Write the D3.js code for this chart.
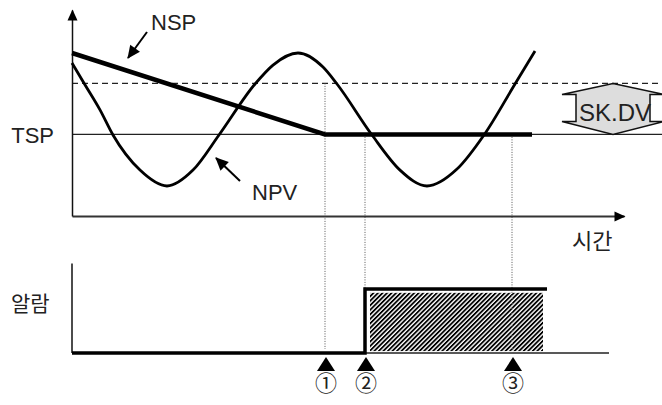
<!DOCTYPE html>
<html>
<head>
<meta charset="utf-8">
<script src="https://cdn.jsdelivr.net/npm/d3@7/dist/d3.min.js"></script>
<style>
  html, body { margin: 0; padding: 0; background: #fff; }
  svg { display: block; }
  text { font-family: "Liberation Sans", Arial, sans-serif; fill: #222; }
  .kr { font-family: "Noto Sans CJK KR", sans-serif; }
</style>
</head>
<body>
<svg id="chart" width="662" height="405"></svg>
<script>
// ---------------- data ----------------
const npvTime  = [0, 2.5, 5.6, 8.2, 13.6, 19, 24.2, 29.4, 36.6, 40.2, 45.2, 50.2, 53, 60, 65.6, 71, 77, 82.4, 88.6, 92.6];
const npvValue = [75, 64.7, 52, 39.7, 22.5, 14.7, 22.5, 39.7, 64.7, 74, 79.9, 73, 64.7, 39.7, 22.5, 14.7, 23, 39.7, 64.7, 80.9];
const nspTime  = [0, 50.6, 92];
const nspValue = [79.9, 40, 40];
const tspValue = 40;
const skdvValue = 25;            // dashed line = TSP + SK.DV
const alarmTime  = [0, 58.6, 58.6, 95];
const alarmState = [0, 0, 1, 1];
const alarmHatch = { t0: 59.6, t1: 94.2, v0: 0.03, v1: 0.94 };
const eventLabels = ["①", "②", "③"];
const eventTimes  = [50.6, 58.6, 88];
const eventTopValue = [skdvValue + tspValue, tspValue, tspValue];
const labels = { nsp: "NSP", npv: "NPV", tsp: "TSP", skdv: "SK.DV", time: "시간", alarm: "알람" };

// ---------------- scales ----------------
const svg = d3.select("#chart");
const x = d3.scaleLinear().domain([0, 110]).range([72, 622]);
const y = d3.scaleLinear().domain([0, 100]).range([216, 12]);
const ya = d3.scaleLinear().domain([0, 1]).range([353, 289]);

const defs = svg.append("defs");
defs.append("marker").attr("id", "axArrow")
  .attr("markerUnits", "userSpaceOnUse").attr("markerWidth", 14).attr("markerHeight", 14)
  .attr("viewBox", "-12 -7 14 14").attr("refX", 0).attr("refY", 0).attr("orient", "auto")
  .append("path").attr("d", "M1,0 L-10,-5 L-10,5 Z").attr("fill", "#000");
defs.append("marker").attr("id", "callArrow")
  .attr("markerUnits", "userSpaceOnUse").attr("markerWidth", 16).attr("markerHeight", 16)
  .attr("viewBox", "-14 -8 16 16").attr("refX", 0).attr("refY", 0).attr("orient", "auto")
  .append("path").attr("d", "M1,0 L-12,-6 L-12,6 Z").attr("fill", "#000");
const pat = defs.append("pattern").attr("id", "hatch")
  .attr("patternUnits", "userSpaceOnUse").attr("width", 3.2).attr("height", 3.2)
  .attr("patternTransform", "rotate(45)");
pat.append("rect").attr("width", 3.2).attr("height", 3.2).attr("fill", "#fff");
pat.append("rect").attr("width", 1.8).attr("height", 3.2).attr("fill", "#000");

// ---------------- top panel ----------------
svg.append("line").attr("x1", x(0)).attr("x2", 662).attr("y1", y(tspValue)).attr("y2", y(tspValue))
  .attr("stroke", "#222").attr("stroke-width", 1.1);
svg.append("line").attr("x1", x(0)).attr("x2", 662)
  .attr("y1", y(tspValue + skdvValue)).attr("y2", y(tspValue + skdvValue))
  .attr("stroke", "#222").attr("stroke-width", 1.1).attr("stroke-dasharray", "6,4");

// event dotted lines
eventTimes.forEach((t, i) => {
  svg.append("line").attr("x1", x(t)).attr("x2", x(t))
    .attr("y1", y(eventTopValue[i]))
    .attr("y2", i === 1 ? ya(1) : ya(0) - 4)
    .attr("stroke", "#555").attr("stroke-width", 1).attr("stroke-dasharray", "1,1.5");
});

// axes (domain paths only)
const xAxisScale = x.copy().domain([0, 110.4]).range([x(0), x(110.4)]);
svg.append("g").attr("transform", `translate(0,${y(0)})`)
  .call(d3.axisBottom(xAxisScale).ticks(0).tickSizeOuter(0))
  .select(".domain").attr("stroke", "#333").attr("stroke-width", 1.8).attr("marker-end", "url(#axArrow)");
const yAxisScale = y.copy().domain([0, 101]).range([y(0), y(101)]);
svg.append("g").attr("transform", `translate(${x(0)},0)`)
  .call(d3.axisLeft(yAxisScale).ticks(0).tickSizeOuter(0))
  .select(".domain").attr("stroke", "#111").attr("stroke-width", 1.5).attr("marker-end", "url(#axArrow)");

// NPV curve
const npvLine = d3.line().x(d => x(d[0])).y(d => y(d[1])).curve(d3.curveMonotoneX);
svg.append("path").datum(d3.zip(npvTime, npvValue)).attr("d", npvLine)
  .attr("fill", "none").attr("stroke", "#000").attr("stroke-width", 2.8);

// NSP line
const nspLine = d3.line().x(d => x(d[0])).y(d => y(d[1]));
svg.append("path").datum(d3.zip(nspTime, nspValue)).attr("d", nspLine)
  .attr("fill", "none").attr("stroke", "#000").attr("stroke-width", 4.5);

// callout arrows
svg.append("line").attr("x1", 147).attr("y1", 32).attr("x2", 128).attr("y2", 58)
  .attr("stroke", "#000").attr("stroke-width", 2).attr("marker-end", "url(#callArrow)");
svg.append("line").attr("x1", 240).attr("y1", 181).attr("x2", 216).attr("y2", 158)
  .attr("stroke", "#000").attr("stroke-width", 2).attr("marker-end", "url(#callArrow)");

// labels
svg.append("text").attr("x", 151).attr("y", 30).attr("font-size", 22).text(labels.nsp);
svg.append("text").attr("x", 252).attr("y", 200).attr("font-size", 22).text(labels.npv);
svg.append("text").attr("x", 54).attr("y", 143).attr("font-size", 22).attr("text-anchor", "end").text(labels.tsp);
svg.append("text").attr("class", "kr").attr("x", 572).attr("y", 249).attr("font-size", 22).text(labels.time);

// SK.DV up-down arrow
const cx = 613, yt = y(tspValue + skdvValue), yb = y(tspValue);
const hh = 11, aw = 51, sw = 37;
svg.append("path")
  .attr("d", `M${cx},${yt} L${cx + aw},${yt + hh} L${cx + sw},${yt + hh} L${cx + sw},${yb - hh - 2} L${cx + aw},${yb - hh - 2} L${cx},${yb} L${cx - aw},${yb - hh - 2} L${cx - sw},${yb - hh - 2} L${cx - sw},${yt + hh} L${cx - aw},${yt + hh} Z`)
  .attr("fill", "#ddd").attr("stroke", "#111").attr("stroke-width", 1.5);
svg.append("text").attr("x", cx + 2).attr("y", 121).attr("font-size", 24).attr("text-anchor", "middle").text(labels.skdv);

// ---------------- bottom panel ----------------
svg.append("line").attr("x1", x(0)).attr("x2", x(107.4)).attr("y1", ya(0)).attr("y2", ya(0))
  .attr("stroke", "#222").attr("stroke-width", 1.3);
svg.append("line").attr("x1", x(0)).attr("x2", x(0)).attr("y1", ya(0)).attr("y2", ya(1.4))
  .attr("stroke", "#111").attr("stroke-width", 1.5);

svg.append("rect")
  .attr("x", x(alarmHatch.t0)).attr("y", ya(alarmHatch.v1))
  .attr("width", x(alarmHatch.t1) - x(alarmHatch.t0))
  .attr("height", ya(alarmHatch.v0) - ya(alarmHatch.v1))
  .attr("fill", "url(#hatch)");

svg.append("line").attr("x1", x(eventTimes[2])).attr("x2", x(eventTimes[2]))
  .attr("y1", ya(alarmHatch.v1)).attr("y2", ya(alarmHatch.v0))
  .attr("stroke", "#fff").attr("stroke-width", 0.6).attr("stroke-dasharray", "1,1.5");

const alarmLine = d3.line().x(d => x(d[0])).y(d => ya(d[1]));
svg.append("path").datum(d3.zip(alarmTime, alarmState)).attr("d", alarmLine)
  .attr("fill", "none").attr("stroke", "#000").attr("stroke-width", 3.5).attr("stroke-linejoin", "miter");

svg.append("text").attr("class", "kr").attr("x", 11).attr("y", 311).attr("font-size", 21).text(labels.alarm);

// event markers
eventTimes.forEach((t, i) => {
  const px = x(t) + 1;
  svg.append("path").attr("d", `M${px},357 l9,14 l-18,0 Z`).attr("fill", "#000");
  svg.append("text").attr("class", "kr").attr("x", px).attr("y", 391)
    .attr("font-size", 22).attr("text-anchor", "middle").text(eventLabels[i]);
});
</script>
</body>
</html>
